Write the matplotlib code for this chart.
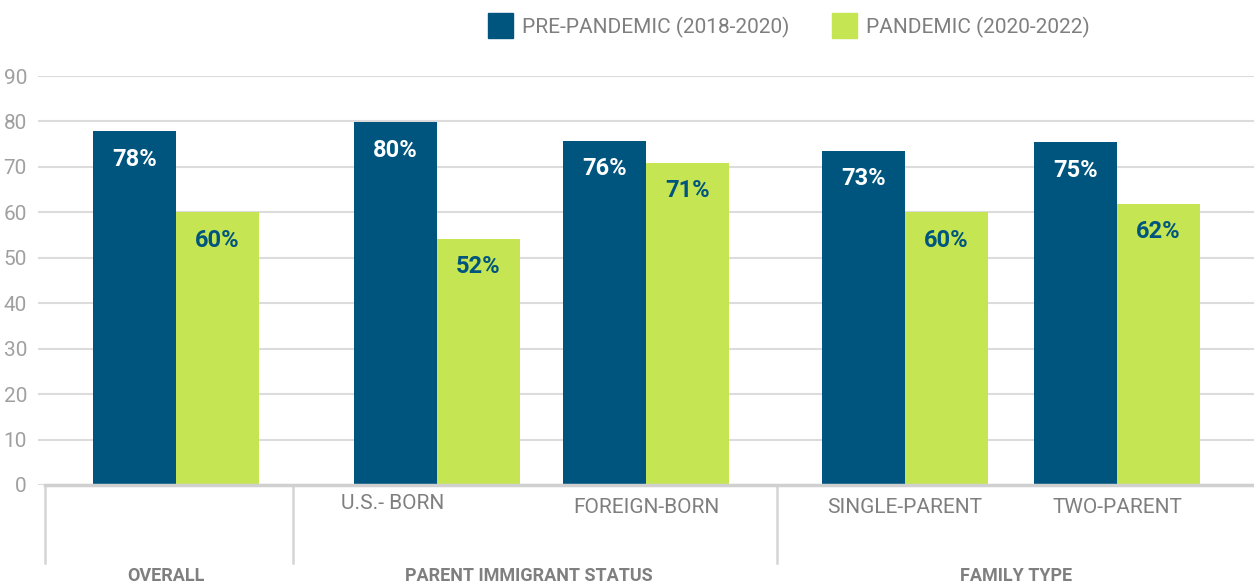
import matplotlib
matplotlib.use('Agg')
import matplotlib.pyplot as plt

# data
categories = ['', 'U.S.- BORN', 'FOREIGN-BORN', 'SINGLE-PARENT', 'TWO-PARENT']
groups = ['OVERALL', 'PARENT IMMIGRANT STATUS', 'FAMILY TYPE']
series_names = ['PRE-PANDEMIC (2018-2020)', 'PANDEMIC (2020-2022)']
pre_values = [77.8, 79.8, 75.8, 73.6, 75.4]
pan_values = [60.0, 54.2, 70.9, 60.0, 61.9]
pre_labels = ['78%', '80%', '76%', '73%', '75%']
pan_labels = ['60%', '52%', '71%', '60%', '62%']
yticks = [0, 10, 20, 30, 40, 50, 60, 70, 80, 90]

# layout (x in pixel-like units)
centers = [176, 437, 646, 905, 1117]
label_shift = [0, -44, 0, 0, 0]
bar_w = 83
separators = [45, 293, 777]
group_centers = [166, 529, 1016]

dark = '#00557f'
green = '#c5e552'
gray_txt = '#7f7f7f'
tick_gray = '#a0a0a0'
grid_gray = '#dcdcdc'

plt.rcParams['font.family'] = ['Roboto', 'DejaVu Sans']

fig = plt.figure(figsize=(12.54, 5.84), dpi=100)
ax = fig.add_axes([38 / 1254, 99 / 584, 1 - 38 / 1254, 409 / 584])

ax.bar([c - bar_w / 2 for c in centers], pre_values, width=bar_w, color=dark, zorder=3)
ax.bar([c + bar_w / 2 for c in centers], pan_values, width=bar_w, color=green, zorder=3)

for c, v, lab in zip(centers, pre_values, pre_labels):
    ax.annotate(lab, (c - bar_w / 2, v), xytext=(0, -20), textcoords='offset points',
                ha='center', va='center', color='white', fontsize=17, fontweight='bold')
for c, v, lab in zip(centers, pan_values, pan_labels):
    ax.annotate(lab, (c + bar_w / 2, v), xytext=(0, -20), textcoords='offset points',
                ha='center', va='center', color=dark, fontsize=17, fontweight='bold')

ax.set_xlim(38, 1254)
ax.set_ylim(0, 90)
ax.set_yticks(yticks)
ax.set_yticklabels([str(t) for t in yticks], color=tick_gray, fontsize=15)
ax.tick_params(axis='y', length=0, pad=8)
ax.set_xticks([])
ax.grid(axis='y', color=grid_gray, linewidth=1.5, zorder=0)
ax.set_axisbelow(True)
for s in ['top', 'right', 'left', 'bottom']:
    ax.spines[s].set_visible(False)

trans = ax.get_xaxis_transform()
ax.plot([45, 1254], [0, 0], color='#d0d0d0', linewidth=2.5, transform=trans, clip_on=False, zorder=4)
for sx in separators:
    ax.plot([sx, sx], [-0.005, -0.19], color='#d5d5d5', linewidth=1.8, transform=trans, clip_on=False)

for c, sh, name in zip(centers, label_shift, categories):
    dy = -0.045 if name == 'U.S.- BORN' else -0.055
    ax.text(c + sh, dy, name, transform=trans, ha='center', va='center',
            color=gray_txt, fontsize=15)
for gx, g in zip(group_centers, groups):
    ax.text(gx, -0.222, g, transform=trans, ha='center', va='center',
            color=gray_txt, fontsize=13, fontweight='bold')

# legend drawn by hand to keep it above the plot
leg_x = [488, 832]
for lx, col, name in zip(leg_x, [dark, green], series_names):
    fig.patches.append(plt.Rectangle((lx / 1254, 1 - 38 / 584), 25 / 1254, 25 / 584,
                                     transform=fig.transFigure, color=col))
    fig.text((lx + 34) / 1254, 1 - 27 / 584, name, ha='left', va='center',
             color=gray_txt, fontsize=15)

fig.savefig('out.png', dpi=100, facecolor='white')
